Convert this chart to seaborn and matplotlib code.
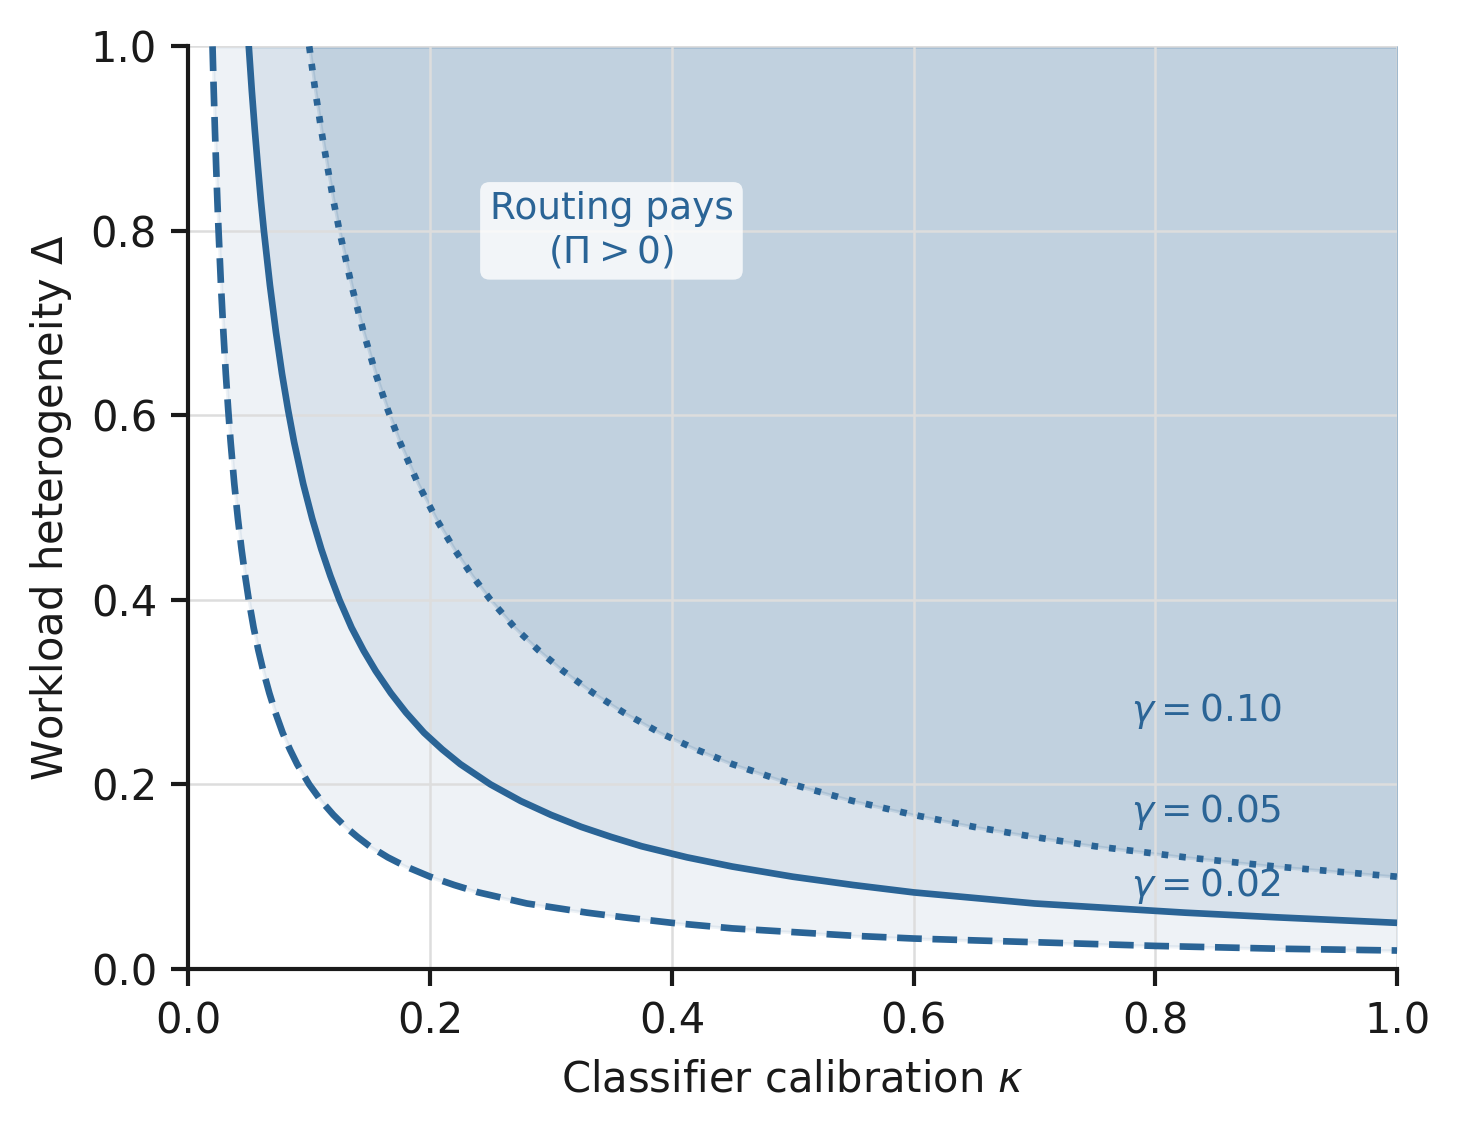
import matplotlib
matplotlib.use("Agg")
import matplotlib.pyplot as plt
import seaborn as sns

# Boundary curves (kappa, Delta)
gamma_labels = [r"$\gamma = 0.02$", r"$\gamma = 0.05$", r"$\gamma = 0.10$"]

kappa_002 = [0.02, 0.021, 0.022, 0.023, 0.024, 0.025, 0.027, 0.029, 0.031, 0.033, 0.035, 0.038,
             0.041, 0.044, 0.047, 0.05, 0.054, 0.058, 0.062, 0.067, 0.072, 0.078, 0.084, 0.09,
             0.1, 0.11, 0.12, 0.13, 0.14, 0.15, 0.165, 0.18, 0.2, 0.22, 0.24, 0.26, 0.28, 0.3,
             0.33, 0.36, 0.4, 0.45, 0.5, 0.55, 0.6, 0.7, 0.8, 0.9, 1.0]
delta_002 = [1.0, 0.952, 0.909, 0.870, 0.833, 0.8, 0.741, 0.690, 0.645, 0.606, 0.571, 0.526,
             0.488, 0.455, 0.426, 0.4, 0.370, 0.345, 0.323, 0.299, 0.278, 0.256, 0.238, 0.222,
             0.2, 0.182, 0.167, 0.154, 0.143, 0.133, 0.121, 0.111, 0.1, 0.091, 0.083, 0.077,
             0.071, 0.067, 0.061, 0.056, 0.05, 0.044, 0.04, 0.036, 0.033, 0.029, 0.025, 0.022,
             0.02]

kappa_005 = [0.05, 0.0525, 0.055, 0.0575, 0.06, 0.0625, 0.0675, 0.0725, 0.0775, 0.0825, 0.0875,
             0.095, 0.1025, 0.11, 0.1175, 0.125, 0.135, 0.145, 0.155, 0.1675, 0.18, 0.195, 0.21,
             0.225, 0.25, 0.275, 0.3, 0.325, 0.35, 0.375, 0.4125, 0.45, 0.5, 0.55, 0.6, 0.65,
             0.7, 0.75, 0.825, 0.9, 1.0]
delta_005 = [1.0, 0.952, 0.909, 0.870, 0.833, 0.8, 0.741, 0.690, 0.645, 0.606, 0.571, 0.526,
             0.488, 0.455, 0.426, 0.4, 0.370, 0.345, 0.323, 0.299, 0.278, 0.256, 0.238, 0.222,
             0.2, 0.182, 0.167, 0.154, 0.143, 0.133, 0.121, 0.111, 0.1, 0.091, 0.083, 0.077,
             0.071, 0.067, 0.061, 0.056, 0.05]

kappa_010 = [0.1, 0.105, 0.11, 0.115, 0.12, 0.125, 0.135, 0.145, 0.155, 0.165, 0.175, 0.19,
             0.205, 0.22, 0.235, 0.25, 0.27, 0.29, 0.31, 0.335, 0.36, 0.39, 0.42, 0.45, 0.5,
             0.55, 0.6, 0.65, 0.7, 0.75, 0.825, 0.9, 1.0]
delta_010 = [1.0, 0.952, 0.909, 0.870, 0.833, 0.8, 0.741, 0.690, 0.645, 0.606, 0.571, 0.526,
             0.488, 0.455, 0.426, 0.4, 0.370, 0.345, 0.323, 0.299, 0.278, 0.256, 0.238, 0.222,
             0.2, 0.182, 0.167, 0.154, 0.143, 0.133, 0.121, 0.111, 0.1]

label_y = [0.09, 0.17, 0.28]

sns.set_theme(style="ticks")
plt.rcParams['font.family'] = ['DejaVu Sans']

color = "#2a6496"
fig, ax = plt.subplots(figsize=(1460 / 300, 1130 / 300), dpi=300)
fig.subplots_adjust(left=0.129, right=0.957, top=0.959, bottom=0.1425)

curves = [(kappa_002, delta_002, "--", 0.08),
          (kappa_005, delta_005, "-", 0.10),
          (kappa_010, delta_010, ":", 0.14)]
for k, d, ls, a in curves:
    ax.fill_between(k, d, 1.0, color=color, alpha=a, lw=0.8, zorder=0.3)
    sns.lineplot(x=k, y=d, ax=ax, color=color, linestyle=ls, lw=1.6, sort=False, zorder=2)

for lab, y in zip(gamma_labels, label_y):
    ax.text(0.78, y, lab, color=color, fontsize=9, ha="left", va="center")

ax.text(0.35, 0.80, "Routing pays\n" + r"($\Pi > 0$)", color=color, fontsize=9,
        ha="center", va="center", multialignment="center",
        bbox=dict(boxstyle="round,pad=0.25", fc="white", ec="none", alpha=0.8))

ax.set_xlim(0, 1)
ax.set_ylim(0, 1)
ax.set_xticks([0, 0.2, 0.4, 0.6, 0.8, 1.0])
ax.set_yticks([0, 0.2, 0.4, 0.6, 0.8, 1.0])
ax.grid(True, color="#dddddd", lw=0.6, zorder=0.5)
ax.set_axisbelow(True)
ax.set_xlabel(r"Classifier calibration $\kappa$", fontsize=10, color="#1a1a1a")
ax.set_ylabel(r"Workload heterogeneity $\Delta$", fontsize=10, color="#1a1a1a")
ax.tick_params(labelsize=10, colors="#1a1a1a", width=1.0, length=4)
for s in ["left", "bottom"]:
    ax.spines[s].set_color("#1a1a1a")
    ax.spines[s].set_linewidth(1.0)
sns.despine(ax=ax)

fig.savefig("out.png", dpi=300)
